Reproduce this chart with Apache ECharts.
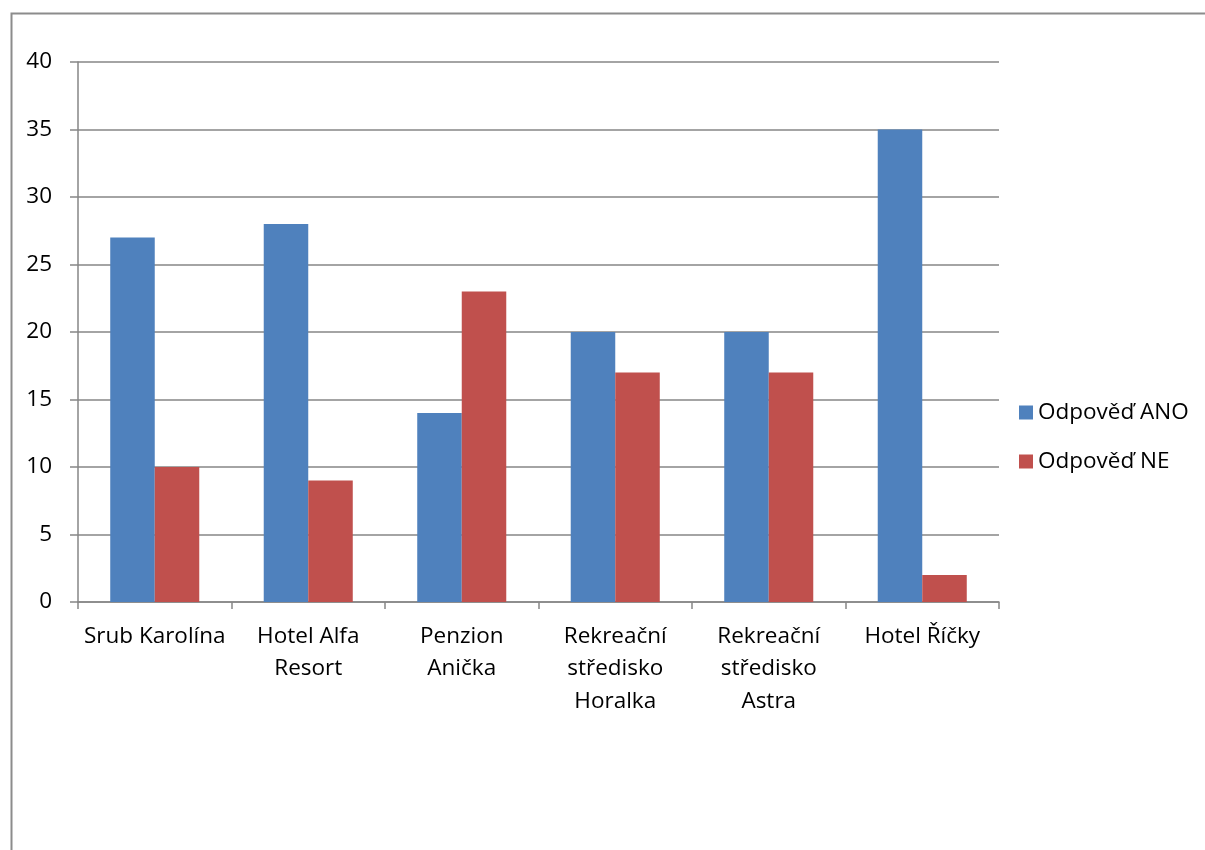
<!DOCTYPE html>
<html><head><meta charset="utf-8">
<script src="https://cdn.jsdelivr.net/npm/echarts@6/dist/echarts.min.js"></script>
<style>html,body{margin:0;padding:0;background:#fff}#c{width:1205px;height:850px}</style>
</head><body><div id="c"></div>
<script>
const categories = ['Srub Karolína', 'Hotel Alfa\nResort', 'Penzion\nAnička', 'Rekreační\nstředisko\nHoralka', 'Rekreační\nstředisko\nAstra', 'Hotel Říčky'];
const seriesNames = ['Odpověď ANO', 'Odpověď NE'];
const valuesANO = [27, 28, 14, 20, 20, 35];
const valuesNE = [10, 9, 23, 17, 17, 2];
const yTicks = {min: 0, max: 40, interval: 5};
const FONT = 'Open Sans';
const chart = echarts.init(document.getElementById('c'));
chart.setOption({
  animation: false,
  textStyle: {fontFamily: FONT},
  graphic: [{type: 'rect', left: 9, top: 11, shape: {width: 1400, height: 1000}, style: {fill: 'none', stroke: '#8c8c8c', lineWidth: 2}, z: -1}],
  grid: {left: 78, top: 62, width: 921, height: 540, containLabel: false},
  legend: {orient: 'vertical', left: 1014, top: 396, itemWidth: 14, itemHeight: 14, itemGap: 26, itemStyle: {borderWidth: 0},
    textStyle: {fontSize: 22.5, color: '#000', fontFamily: FONT}, icon: 'rect', data: seriesNames},
  xAxis: {type: 'category', data: categories,
    axisLine: {lineStyle: {color: '#868686', width: 1.5}},
    axisTick: {show: true, length: 7, lineStyle: {color: '#868686', width: 1.5}},
    axisLabel: {fontSize: 22.5, color: '#000', lineHeight: 32.5, margin: 18, interval: 0}},
  yAxis: {type: 'value', min: yTicks.min, max: yTicks.max, interval: yTicks.interval,
    axisLine: {show: true, lineStyle: {color: '#868686', width: 1.5}},
    axisTick: {show: true, length: 8, lineStyle: {color: '#868686', width: 1.5}},
    splitLine: {lineStyle: {color: '#868686', width: 1.5}},
    axisLabel: {fontSize: 22.5, color: '#000', margin: 26}},
  series: [
    {name: seriesNames[0], type: 'bar', data: valuesANO, barGap: '0%', barCategoryGap: '42%', itemStyle: {color: '#4f81bd'}},
    {name: seriesNames[1], type: 'bar', data: valuesNE, itemStyle: {color: '#c0504d'}}
  ]
});
</script></body></html>
